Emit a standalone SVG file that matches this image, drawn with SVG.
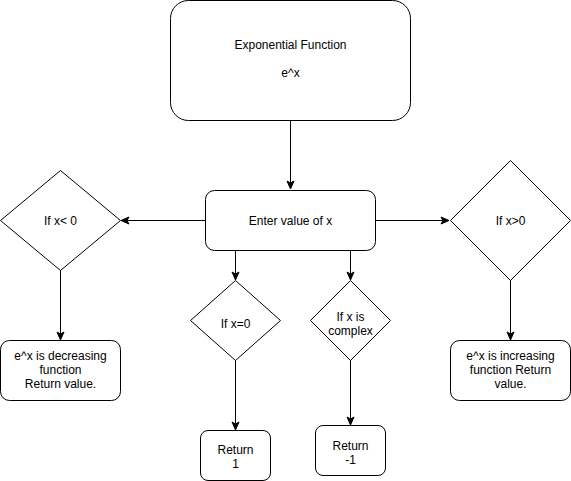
<svg xmlns="http://www.w3.org/2000/svg" width="571" height="481" viewBox="0 0 571 481">
<style>
.shape{fill:#fff;stroke:#000;stroke-width:1}
.t{font-family:"Liberation Sans",Arial,Helvetica,sans-serif;font-size:12px;fill:#000;text-anchor:middle}
.edge{fill:none;stroke:#000;stroke-width:1}
</style>
<defs>
<marker id="arr" markerUnits="userSpaceOnUse" markerWidth="10" markerHeight="10" viewBox="0 0 10 10" refX="9" refY="5" orient="auto">
<path d="M1,1.5 L9,5 L1,8.5 L3,5 Z" fill="#000" stroke="#000" stroke-width="1"/>
</marker>
</defs>
<rect width="571" height="481" fill="#fff"/>
<g id="connectors">
<path class="edge" d="M290.5,120 L290.5,189" marker-end="url(#arr)"/>
<path class="edge" d="M205,220.5 L121,220.5" marker-end="url(#arr)"/>
<path class="edge" d="M375,220.5 L449,220.5" marker-end="url(#arr)"/>
<path class="edge" d="M235.5,250 L235.5,280" marker-end="url(#arr)"/>
<path class="edge" d="M350.5,250 L350.5,280" marker-end="url(#arr)"/>
<path class="edge" d="M60.5,270 L60.5,340" marker-end="url(#arr)"/>
<path class="edge" d="M510.5,280 L510.5,340" marker-end="url(#arr)"/>
<path class="edge" d="M235.5,360 L235.5,430" marker-end="url(#arr)"/>
<path class="edge" d="M350.5,360 L350.5,425" marker-end="url(#arr)"/>
</g>
<g id="start">
<rect class="shape" x="170.5" y="0.5" width="240" height="120" rx="18" ry="18"/>
<text class="t" x="290.5" y="49">Exponential Function</text>
<text class="t" x="290.5" y="77">e^x</text>
</g>
<g id="enter">
<rect class="shape" x="205.5" y="190.5" width="170" height="60" rx="9" ry="9"/>
<text class="t" x="290.5" y="224.5">Enter value of x</text>
</g>
<g id="neg">
<path class="shape" d="M60.5,170.5 L120.5,220.5 L60.5,270.5 L0.5,220.5 Z"/>
<text class="t" x="60.5" y="224.5">If x&lt; 0</text>
</g>
<g id="pos">
<path class="shape" d="M510.5,160.5 L570.5,220.5 L510.5,280.5 L450.5,220.5 Z"/>
<text class="t" x="510.5" y="224.5">If x&gt;0</text>
</g>
<g id="zero">
<path class="shape" d="M235.5,280.5 L280.5,320.5 L235.5,360.5 L190.5,320.5 Z"/>
<text class="t" x="235.5" y="328">If x=0</text>
</g>
<g id="complex">
<path class="shape" d="M350.5,280.5 L390.5,320.5 L350.5,360.5 L310.5,320.5 Z"/>
<text class="t" x="350.5" y="321">If x is</text>
<text class="t" x="350.5" y="335">complex</text>
</g>
<g id="decreasing">
<rect class="shape" x="0.5" y="340.5" width="120" height="60" rx="9" ry="9"/>
<text class="t" x="60.5" y="360">e^x is decreasing</text>
<text class="t" x="60.5" y="374">function</text>
<text class="t" x="60.5" y="388">Return value.</text>
</g>
<g id="increasing">
<rect class="shape" x="450.5" y="340.5" width="120" height="60" rx="9" ry="9"/>
<text class="t" x="510.5" y="360">e^x is increasing</text>
<text class="t" x="510.5" y="374">function Return</text>
<text class="t" x="510.5" y="388">value.</text>
</g>
<g id="ret1">
<rect class="shape" x="200.5" y="430.5" width="70" height="50" rx="7.5" ry="7.5"/>
<text class="t" x="235.5" y="454">Return</text>
<text class="t" x="235.5" y="468">1</text>
</g>
<g id="retm1">
<rect class="shape" x="315.5" y="425.5" width="70" height="50" rx="7.5" ry="7.5"/>
<text class="t" x="350.5" y="450">Return</text>
<text class="t" x="350.5" y="464">-1</text>
</g>
</svg>
